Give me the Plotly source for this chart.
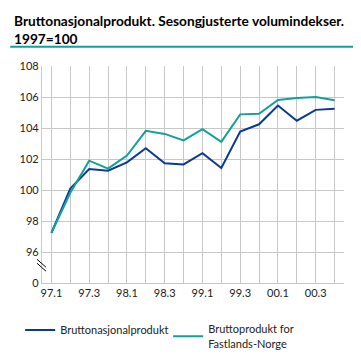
import plotly.graph_objects as go

quarters = ["97.1", "97.2", "97.3", "97.4", "98.1", "98.2", "98.3", "98.4",
            "99.1", "99.2", "99.3", "99.4", "00.1", "00.2", "00.3", "00.4"]
bnp = [97.24, 100.1, 101.35, 101.25, 101.78, 102.69, 101.73, 101.65,
       102.37, 101.42, 103.77, 104.24, 105.45, 104.47, 105.17, 105.24]
fastland = [97.24, 99.82, 101.89, 101.38, 102.22, 103.82, 103.62, 103.2,
            103.92, 103.11, 104.88, 104.92, 105.81, 105.94, 106.0, 105.79]
y_ticks = [94, 96, 98, 100, 102, 104, 106, 108]
y_ticktext = ["0", "96", "98", "100", "102", "104", "106", "108"]
series_names = ["Bruttonasjonalprodukt", "Bruttoprodukt for<br>Fastlands-Norge"]
title_text = "<b>Bruttonasjonalprodukt. Sesongjusterte volumindekser.<br>1997=100</b>"

BLUE = "#0a3a94"
TEAL = "#13a09b"
GRID = "#c8c8c8"
FONT = "Lato"

x_idx = list(range(len(quarters)))
x_text = [q if i % 2 == 0 else "" for i, q in enumerate(quarters)]

fig = go.Figure()
fig.add_trace(go.Scatter(x=x_idx, y=bnp, mode="lines", name=series_names[0],
                         line=dict(color=BLUE, width=2)))
fig.add_trace(go.Scatter(x=x_idx, y=fastland, mode="lines", name=series_names[1],
                         line=dict(color=TEAL, width=2)))

L, R, T, B = 32, 25, 58, 83
W = H = 361
pw = W - L - R
ph = H - T - B

def px(xp):
    return (xp - L) / pw

def py(yp):
    return (H - B - yp) / ph

shapes = [
    dict(type="line", xref="paper", yref="paper", x0=px(0), x1=px(W), y0=py(38.5), y1=py(38.5),
         line=dict(color=TEAL, width=2)),
    dict(type="line", xref="paper", yref="paper", x0=px(0), x1=px(W), y0=py(359.5), y1=py(359.5),
         line=dict(color=TEAL, width=2)),
    dict(type="line", xref="paper", yref="paper", x0=px(27), x1=px(36), y0=py(254), y1=py(262),
         line=dict(color="#000000", width=1)),
    dict(type="line", xref="paper", yref="paper", x0=px(27), x1=px(36), y0=py(258), y1=py(266),
         line=dict(color="#000000", width=1)),
]

fig.update_layout(
    width=W, height=H,
    margin=dict(l=L, r=R, t=T, b=B, pad=0),
    paper_bgcolor="white", plot_bgcolor="white",
    font=dict(family=FONT, size=11, color="#222222"),
    showlegend=True,
    legend=dict(orientation="h", x=px(10), xanchor="left", y=py(311), yanchor="top",
                font=dict(family=FONT, size=11, color="#222222"),
                itemwidth=30, traceorder="normal", bgcolor="rgba(0,0,0,0)",
                entrywidth=103),
    shapes=shapes,
    annotations=[dict(text=title_text, xref="paper", yref="paper", x=px(2), y=py(1),
                      xanchor="left", yanchor="top", align="left", showarrow=False,
                      font=dict(family=FONT, size=13.7, color="#000000"))],
)
fig.update_xaxes(range=[-0.5, 15.5], tickmode="array", tickvals=x_idx, ticktext=x_text,
                 showgrid=True, gridcolor=GRID, gridwidth=1.3,
                 showline=True, linecolor=GRID, linewidth=1.3,
                 ticks="", zeroline=False, tickfont=dict(size=11))
fig.update_yaxes(range=[94, 108], tickmode="array", tickvals=y_ticks, ticktext=y_ticktext,
                 showgrid=True, gridcolor=GRID, gridwidth=1.3,
                 showline=True, linecolor=GRID, linewidth=1.3,
                 ticks="", zeroline=False, tickfont=dict(size=11))

fig.write_html("out.html")
